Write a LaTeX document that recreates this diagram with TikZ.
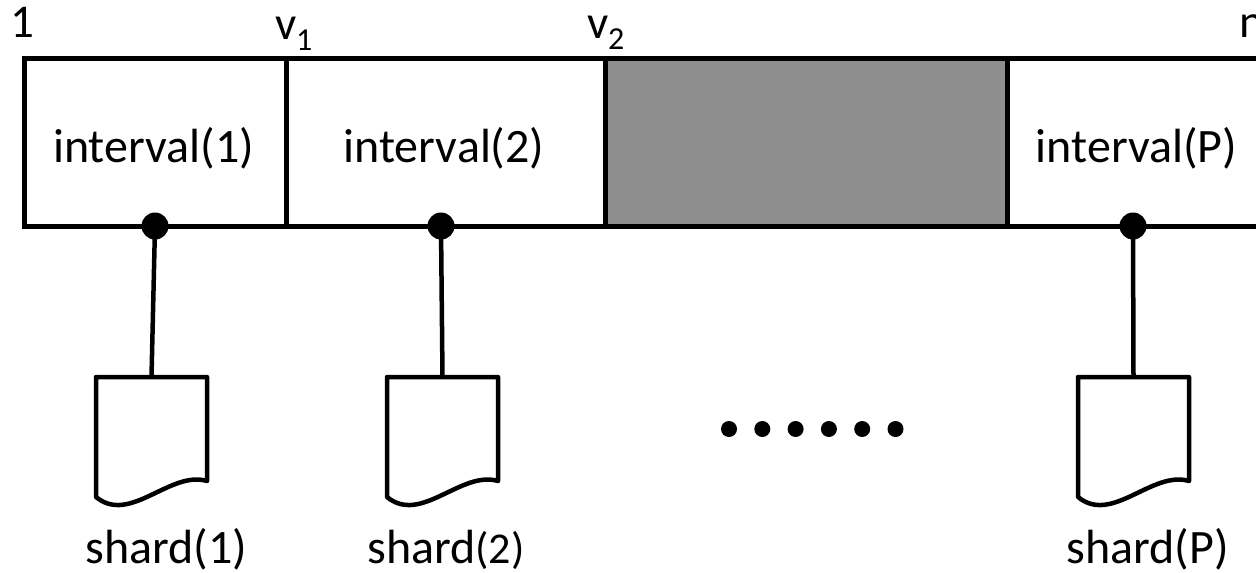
\documentclass[tikz,border=0pt]{standalone}
\usepackage{fontspec}
\setmainfont{Carlito}
\usetikzlibrary{shadows}
\definecolor{blockgray}{RGB}{142,142,142}

\begin{document}
\begin{tikzpicture}[x=1pt,y=-1pt,
  every node/.style={inner sep=0pt, outer sep=0pt},
  cellbox/.style={draw, line width=5pt, minimum height=168pt},
  lbl/.style={font=\fontsize{48}{56}\selectfont, anchor=base},
  toplbl/.style={font=\fontsize{47}{55}\selectfont, anchor=base west},
  dotnode/.style={circle, fill=black, minimum size=27pt},
  smalldot/.style={circle, fill=black, minimum size=16pt},
  link/.style={line width=4.5pt},
  shardicon/.pic={
    \draw[line width=4.5pt, line join=round, fill=white]
      (0,0) -- (111,0) -- (111,104)
      .. controls (74,93) and (34,148) .. (0,120) -- cycle;
    \coordinate (-top) at (55.5,0);
  }
]
\useasboundingbox (0,0) rectangle (1256,573);
\clip (0,0) rectangle (1256,573);

% the array split into intervals
\node[cellbox, minimum width=262pt] (c1) at (155,142) {};
\node[cellbox, minimum width=319pt] (c2) at (445.5,142) {};
\node[cellbox, minimum width=293pt] (cP) at (1153.5,142) {};
\node[cellbox, minimum width=402pt, fill=blockgray,
      drop shadow={shadow xshift=1pt, shadow yshift=-3pt, opacity=0.25}] (cg) at (806,142) {};

\node[lbl] (t1) at (153.5,162) {interval(1)};
\node[lbl] (t2) at (444,162) {interval(2)};
\node[lbl] (tP) at (1136.5,162) {interval(P)};

% boundary labels
\node[toplbl] (b1) at (10,37) {1};
\node[toplbl] (bv1) at (275,39) {v\raisebox{-11pt}{\fontsize{32}{32}\selectfont 1}};
\node[toplbl] (bv2) at (587,38) {v\raisebox{-11pt}{\fontsize{32}{32}\selectfont 2}};
\node[toplbl] (bn) at (1239,37) {n};

% attachment points
\node[dotnode] (p1) at (155,226) {};
\node[dotnode] (p2) at (441,226) {};
\node[dotnode] (pP) at (1133,226) {};

% shard files
\pic (s1) at (96,377) {shardicon};
\pic (s2) at (387,377) {shardicon};
\pic (sP) at (1078,377) {shardicon};

\draw[link] (p1.center) -- (s1-top);
\draw[link] (p2.center) -- (s2-top);
\draw[link] (pP.center) -- (sP-top);

\node[lbl] (l1) at (166.5,563) {shard(1)};
\node[lbl] (l2) at (446,563) {shard{\fontsize{44}{52}\selectfont(2)}};
\node[lbl] (lP) at (1147.5,563) {shard(P)};

% ellipsis
\foreach \i in {0,...,5}
  \node[smalldot] (e\i) at (729+33.3*\i,429) {};
\end{tikzpicture}
\end{document}
